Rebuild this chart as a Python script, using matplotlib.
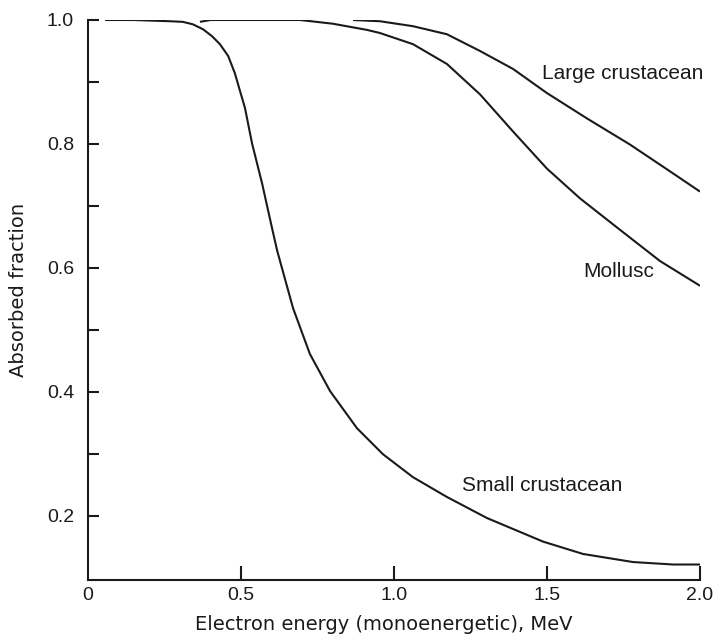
import matplotlib
matplotlib.use("Agg")
import matplotlib.pyplot as plt
from matplotlib.ticker import FixedLocator

# values
small_x = [0.056, 0.15, 0.268, 0.310, 0.343, 0.376, 0.405, 0.431, 0.458, 0.480, 0.497,
           0.513, 0.536, 0.569, 0.601, 0.618, 0.670, 0.725, 0.791, 0.879,
           0.964, 1.062, 1.173, 1.304, 1.487, 1.618, 1.781, 1.912, 2.0]
small_y = [1.0, 1.0, 0.998, 0.997, 0.993, 0.985, 0.974, 0.961, 0.942, 0.914, 0.885,
           0.858, 0.801, 0.736, 0.665, 0.628, 0.535, 0.461, 0.401, 0.341,
           0.299, 0.262, 0.230, 0.196, 0.158, 0.138, 0.125, 0.121, 0.121]

mollusc_x = [0.366, 0.40, 0.5, 0.693, 0.80, 0.912, 0.954, 1.062, 1.173, 1.281,
             1.389, 1.5, 1.608, 1.729, 1.869, 2.0]
mollusc_y = [0.997, 1.0, 1.0, 1.0, 0.994, 0.984, 0.979, 0.961, 0.929, 0.880,
             0.820, 0.760, 0.712, 0.665, 0.611, 0.571]

large_x = [0.866, 0.954, 1.062, 1.173, 1.281, 1.389, 1.5, 1.631, 1.771, 1.892, 2.0]
large_y = [1.0, 0.998, 0.990, 0.977, 0.950, 0.921, 0.882, 0.841, 0.799, 0.759, 0.723]

x_ticks = [0.5, 1.0, 1.5, 2.0]
y_ticks = [0.2, 0.4, 0.6, 0.8, 1.0]
y_minor = [0.3, 0.5, 0.7, 0.9]

ink = "#1a1a1a"
fig = plt.figure(figsize=(7.16, 6.35), dpi=100)
ax = fig.add_axes([88 / 716, 1 - 580 / 635, 612 / 716, 560 / 635])

for xs, ys in [(small_x, small_y), (mollusc_x, mollusc_y), (large_x, large_y)]:
    ax.plot(xs, ys, color=ink, lw=1.5, solid_capstyle="butt", solid_joinstyle="round")

ax.set_xlim(0, 2.0)
ax.set_ylim(0.096, 1.0)
for s in ["top", "right"]:
    ax.spines[s].set_visible(False)
for s in ["left", "bottom"]:
    ax.spines[s].set_linewidth(1.5)
    ax.spines[s].set_color(ink)

tick_font = dict(family="Liberation Sans", size=14)
ax.set_xticks(x_ticks)
ax.set_yticks(y_ticks)
ax.yaxis.set_minor_locator(FixedLocator(y_minor))
ax.tick_params(axis="y", which="both", direction="in", length=8, width=1.5,
               color=ink, pad=10)
ax.tick_params(axis="x", direction="in", length=10, width=1.5, color=ink, pad=5)
ax.set_yticklabels([f"{v:.1f}" for v in y_ticks], fontdict=tick_font, color=ink)
ax.set_xticklabels([f"{v:.1f}" for v in x_ticks], fontdict=tick_font, color=ink)
# the 0 at the origin has no tick mark
ax.text(0, -0.012, "0", transform=ax.get_xaxis_transform(), ha="center", va="top",
        color=ink, **tick_font)

label_font = dict(family="DejaVu Sans", size=14)
ax.set_xlabel("Electron energy (monoenergetic), MeV", color=ink, va="baseline", **label_font)
ax.set_ylabel("Absorbed fraction", color=ink, **label_font)
ax.xaxis.set_label_coords(0.484, -0.089)
ax.yaxis.set_label_coords(-0.098, 0.518)

note_font = dict(family="Liberation Sans", size=15)
ax.text(1.484, 0.913, "Large crustacean", ha="left", va="center", color=ink,
        clip_on=False, **note_font)
ax.text(1.618, 0.594, "Mollusc", ha="left", va="center", color=ink, **note_font)
ax.text(1.222, 0.248, "Small crustacean", ha="left", va="center", color=ink, **note_font)

fig.savefig("out.png", dpi=100)
